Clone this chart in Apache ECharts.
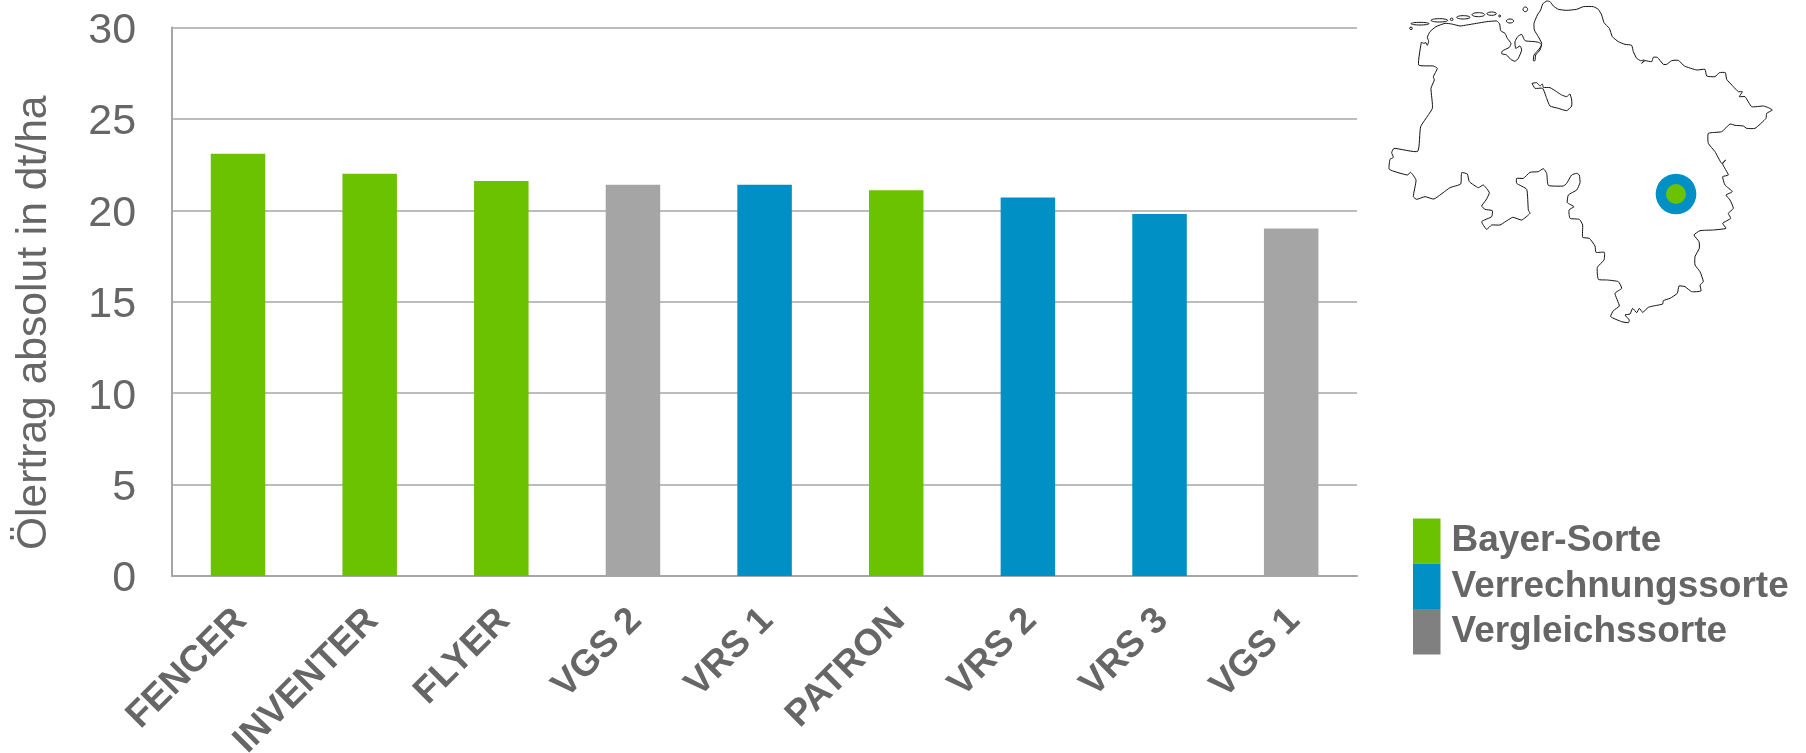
<!DOCTYPE html>
<html><head><meta charset="utf-8">
<style>html,body{margin:0;padding:0;background:#fff}#c{width:1806px;height:753px}</style>
<script src="https://cdn.jsdelivr.net/npm/echarts@6/dist/echarts.min.js"></script>
</head><body><div id="c"></div>
<script>
const categories = ['FENCER','INVENTER','FLYER','VGS 2','VRS 1','PATRON','VRS 2','VRS 3','VGS 1'];
const values = [23.1,22.0,21.6,21.4,21.4,21.1,20.7,19.8,19.0];
const groups = ['B','B','B','G','V','B','V','V','G'];
const yTicks = [0,5,10,15,20,25,30];
const axisName = 'Ölertrag absolut in dt/ha';
const seriesNames = {B:'Bayer-Sorte', V:'Verrechnungssorte', G:'Vergleichssorte'};
const barColors = {B:'#6ac200', V:'#0090c5', G:'#a5a5a5'};
const legendColors = {B:'#6ac200', V:'#0090c5', G:'#808080'};
const order = ['B','V','G'];

// Map outline of Niedersachsen (3x crop units)
const outline = [[214,127],[222,130],[228,128],[232,136],[236,124],[232,112],[240,95],[258,80],[285,70],[305,72],[330,78],[350,75],[380,70],[410,65],[440,63],[449,72],[452,92],[465,100],[472,115],[483,130],[478,142],[457,153],[455,161],[470,165],[482,178],[495,184],[505,175],[515,150],[510,138],[497,145],[495,125],[503,110],[515,103],[525,122],[555,125],[568,128],[575,135],[565,150],[552,165],[550,182],[555,182],[557,165],[570,150],[575,130],[565,110],[553,90],[552,70],[562,45],[572,30],[578,12],[590,3],[600,5],[610,18],[625,28],[650,31],[680,28],[700,20],[730,20],[745,28],[755,45],[762,68],[778,85],[787,110],[805,125],[825,133],[845,136],[850,155],[860,175],[872,182],[883,180],[875,190],[885,182],[905,185],[910,172],[922,172],[940,193],[950,193],[965,182],[985,181],[1003,198],[1040,210],[1065,208],[1070,228],[1095,230],[1108,218],[1126,218],[1130,238],[1150,260],[1165,275],[1177,275],[1168,290],[1185,290],[1205,320],[1240,318],[1255,323],[1267,330],[1250,340],[1248,355],[1215,385],[1190,385],[1180,378],[1155,376],[1140,372],[1115,395],[1075,400],[1075,430],[1095,455],[1115,490],[1127,480],[1118,492],[1135,525],[1118,530],[1125,555],[1147,575],[1128,585],[1140,600],[1150,625],[1135,640],[1142,655],[1118,670],[1128,685],[1090,690],[1050,692],[1032,705],[1047,725],[1048,745],[1035,770],[1035,795],[1050,815],[1060,845],[1050,855],[1053,873],[1025,875],[1005,860],[987,858],[982,880],[960,895],[940,902],[938,912],[910,918],[895,922],[878,937],[868,925],[860,938],[848,925],[840,942],[825,945],[838,960],[835,968],[815,965],[782,950],[790,932],[808,918],[795,880],[815,865],[805,845],[772,840],[745,838],[742,802],[762,780],[763,757],[738,757],[735,738],[718,715],[698,712],[698,675],[688,658],[660,655],[657,630],[672,620],[652,608],[655,585],[680,570],[690,548],[688,525],[680,520],[665,525],[650,550],[640,558],[595,556],[590,520],[580,506],[565,515],[540,517],[520,535],[500,535],[500,550],[530,568],[535,630],[540,640],[515,660],[488,652],[450,675],[425,675],[410,688],[395,665],[425,650],[427,632],[405,628],[395,618],[408,600],[418,578],[400,555],[385,563],[358,545],[352,522],[335,518],[332,552],[300,563],[252,597],[225,590],[200,598],[190,590],[198,540],[182,517],[172,525],[118,508],[120,478],[130,472],[125,458],[132,445],[203,454],[212,380],[247,325],[243,265],[253,240],[250,230],[262,205],[250,198],[206,195],[214,127]];
const bremen = [[546,250],[560,248],[570,258],[577,252],[580,262],[600,263],[620,275],[635,285],[650,290],[660,282],[665,300],[665,318],[650,332],[625,325],[600,318],[590,295],[578,265],[555,265],[546,250]];
const islands = [[210,71,27,4],[183,85,4,4],[268,61,25,5],[305,58,4,4],[340,52,20,5],[385,44,19,6],[425,41,14,5],[449,48,3,3],[480,63,11,6],[526,28,7,7]];
const site = [978,582,61,30];

const px = p => [1350 + p[0]/3, p[1]/3];
const mapLine = {stroke:'#111', lineWidth:1, fill:null, lineJoin:'round'};
const graphics = [
  {type:'polyline', silent:true, shape:{points:outline.map(px), smooth:0.15}, style:mapLine},
  {type:'polyline', silent:true, shape:{points:bremen.map(px), smooth:0.15}, style:mapLine},
  ...islands.map(i => ({type:'ellipse', silent:true, shape:{cx:1350+i[0]/3, cy:i[1]/3, rx:i[2]/3, ry:i[3]/3}, style:mapLine})),
  {type:'circle', silent:true, shape:{cx:1350+site[0]/3, cy:site[1]/3, r:site[2]/3}, style:{fill:barColors.V}},
  {type:'circle', silent:true, shape:{cx:1350+site[0]/3, cy:site[1]/3, r:site[3]/3}, style:{fill:barColors.B}}
];

const font = '"Liberation Sans", Arial, sans-serif';
const chart = echarts.init(document.getElementById('c'), null, {renderer:'canvas'});
chart.setOption({
  animation:false,
  backgroundColor:'#fff',
  grid:{left:172.2, top:27.5, right:1806-1357, height:548.5, outerBoundsMode:'none'},
  legend:{
    orient:'vertical', left:1408, top:513.5, itemWidth:27.5, itemHeight:45.3, itemGap:0, icon:'rect',
    selectedMode:false,
    textStyle:{fontFamily:font, fontSize:37, fontWeight:'bold', color:'#666', padding:[0,0,0,6]},
    data:order.map(k => ({name:seriesNames[k], itemStyle:{color:legendColors[k]}}))
  },
  xAxis:{
    type:'category', data:categories,
    axisTick:{show:false},
    axisLine:{lineStyle:{color:'#a6a6a6', width:2}},
    axisLabel:{rotate:45, margin:36, interval:0, verticalAlign:'top', lineHeight:8, fontFamily:font, fontSize:37, fontWeight:'bold', color:'#666'}
  },
  yAxis:{
    type:'value', min:0, max:30, interval:5,
    name:axisName, nameLocation:'middle', nameGap:116, nameRotate:90,
    nameTextStyle:{fontFamily:font, fontSize:42.6, color:'#666', padding:[0,42,0,0]},
    axisLine:{show:true, lineStyle:{color:'#a6a6a6', width:2}},
    axisTick:{show:false},
    splitLine:{lineStyle:{color:'#a6a6a6', width:1.6}},
    axisLabel:{margin:36, verticalAlign:'top', lineHeight:7, fontFamily:font, fontSize:43, color:'#666', formatter:v => yTicks.includes(v) ? String(v) : ''}
  },
  series:order.map(k => ({
    type:'bar', name:seriesNames[k], barWidth:'41.4%', barGap:'-100%',
    itemStyle:{color:barColors[k]},
    data:values.map((v,i) => groups[i]===k ? v : null)
  })),
  graphic:graphics
});
</script></body></html>
